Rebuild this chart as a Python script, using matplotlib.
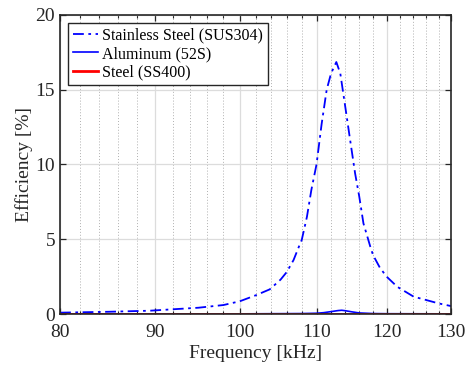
import matplotlib.pyplot as plt
from matplotlib.ticker import FixedLocator, NullFormatter

plt.rcParams['font.family'] = ['Liberation Serif', 'DejaVu Serif']

freq_sus = [80, 85, 89.4, 95, 98, 100, 102.1, 103.8, 105.2, 106, 106.9, 107.7, 108, 108.7,
            109.3, 110, 110.7, 111.4, 112, 112.74, 113.3, 114, 114.7, 115.4, 116, 116.6,
            117.6, 118, 119, 120, 121.6, 124.1, 126, 128, 130]
eff_sus = [0.09, 0.15, 0.22, 0.42, 0.6, 0.85, 1.27, 1.65, 2.3, 2.8, 3.6, 4.6, 4.95, 6.5,
           8.3, 10.0, 12.7, 15.0, 16.08, 16.85, 16.08, 13.85, 11.6, 9.4, 7.84, 6.06,
           4.5, 3.94, 3.1, 2.5, 1.82, 1.16, 0.94, 0.71, 0.53]

freq_al = [80, 100, 108, 110, 111, 112, 113, 113.5, 114, 115, 116, 118, 120, 130]
eff_al = [0.0, 0.01, 0.03, 0.05, 0.09, 0.16, 0.23, 0.25, 0.22, 0.14, 0.07, 0.03, 0.02, 0.01]

freq_ss = [80, 130]
eff_ss = [0.0, 0.0]

fig = plt.figure(figsize=(4.7, 3.67), dpi=100)
ax = fig.add_axes([0.1277, 0.1444, 0.832, 0.815])

ax.plot(freq_sus, eff_sus, color='blue', linestyle=(0, (6, 2.5, 1.5, 2.5)), linewidth=1.3,
        label='Stainless Steel (SUS304)')
ax.plot(freq_al, eff_al, color='blue', linestyle='-', linewidth=1.2, label='Aluminum (52S)')
ax.plot(freq_ss, eff_ss, color='red', linestyle='-', linewidth=2.0, label='Steel (SS400)')

ax.set_xscale('log')
ax.set_xlim(80, 130)
ax.set_ylim(0, 20)
ax.xaxis.set_major_locator(FixedLocator([80, 90, 100, 110, 120, 130]))
ax.xaxis.set_minor_locator(FixedLocator([f for f in range(82, 130, 2) if f % 10 != 0]))
ax.xaxis.set_major_formatter(plt.FuncFormatter(lambda v, p: '%d' % v))
ax.xaxis.set_minor_formatter(NullFormatter())
ax.set_yticks([0, 5, 10, 15, 20])

ax.grid(which='major', color='#dcdcdc', linewidth=0.9, linestyle='-')
ax.grid(which='minor', axis='x', color='#b0b0b0', linewidth=0.7, linestyle=(0, (1, 2)))
ax.set_axisbelow(True)

ax.tick_params(which='both', direction='in', top=True, right=True, labelsize=14, colors='#262626')
ax.tick_params(which='major', length=4, width=0.9)
ax.tick_params(which='minor', length=2.5, width=0.8)
ax.tick_params(axis='x', which='major', pad=7)
for s in ax.spines.values():
    s.set_color('#262626')
    s.set_linewidth(1.2)

ax.set_xlabel('Frequency [kHz]', fontsize=14, color='#262626', labelpad=3)
ax.set_ylabel('Efficiency [%]', fontsize=14, color='#262626', labelpad=2)

leg = ax.legend(loc='upper left', fontsize=11.5, fancybox=False, framealpha=1,
                edgecolor='#262626', borderpad=0.3, labelspacing=0.15, handlelength=1.6,
                handletextpad=0.25, borderaxespad=0.5)
leg.get_frame().set_linewidth(1.0)

fig.savefig('out.png', dpi=100)
